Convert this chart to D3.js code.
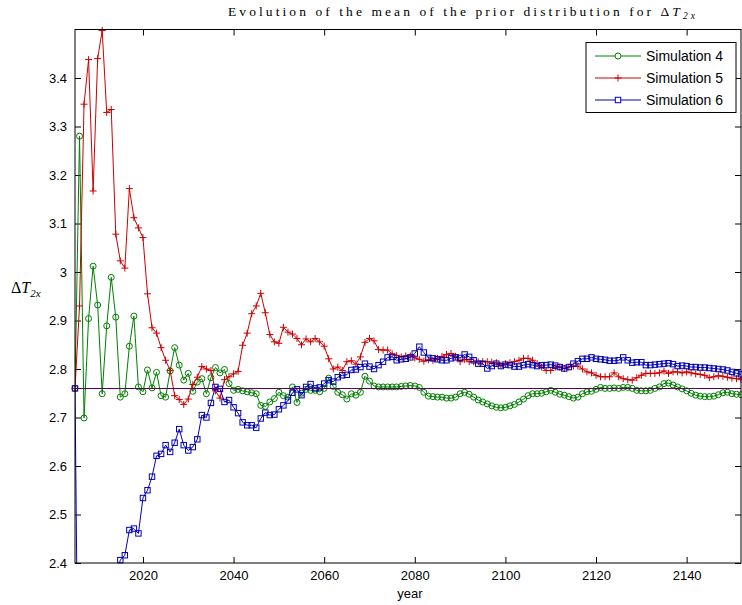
<!DOCTYPE html>
<html><head><meta charset="utf-8">
<script src="https://cdn.jsdelivr.net/npm/d3@7"></script>
<style>body{margin:0;background:#fff}svg{display:block}</style>
</head><body>
<svg id="chart" width="742" height="605"></svg>
<script>
const startYear = 2005;
const seriesNames = ["Simulation 4", "Simulation 5", "Simulation 6"];
const sim4 = [
2.760,3.280,2.699,2.904,3.012,2.932,2.749,2.889,2.989,2.907,
2.742,2.749,2.847,2.909,2.763,2.753,2.798,2.761,2.793,2.745,
2.742,2.796,2.844,2.808,2.777,2.791,2.754,2.773,2.780,2.749,
2.782,2.803,2.792,2.799,2.770,2.756,2.758,2.755,2.753,2.751,
2.749,2.725,2.723,2.732,2.739,2.752,2.745,2.742,2.763,2.731,
2.750,2.758,2.756,2.756,2.753,2.760,2.781,2.764,2.752,2.747,
2.738,2.749,2.746,2.752,2.785,2.775,2.765,2.763,2.763,2.763,
2.763,2.763,2.764,2.765,2.766,2.765,2.762,2.752,2.744,2.743,
2.742,2.742,2.740,2.740,2.742,2.749,2.752,2.748,2.742,2.736,
2.732,2.728,2.724,2.721,2.720,2.721,2.724,2.727,2.732,2.738,
2.745,2.749,2.749,2.750,2.753,2.756,2.752,2.748,2.746,2.743,
2.740,2.742,2.749,2.753,2.754,2.758,2.762,2.760,2.760,2.761,
2.760,2.762,2.762,2.760,2.756,2.755,2.755,2.756,2.760,2.763,
2.770,2.771,2.767,2.763,2.759,2.755,2.750,2.746,2.744,2.743,
2.743,2.744,2.747,2.751,2.752,2.749,2.748,2.747];
const sim5 = [
2.760,2.930,3.346,3.438,3.167,3.440,3.498,3.329,3.335,3.078,
3.023,3.008,3.172,3.112,3.091,3.071,2.955,2.885,2.874,2.844,
2.818,2.797,2.745,2.737,2.727,2.738,2.768,2.783,2.805,2.800,
2.797,2.755,2.740,2.778,2.784,2.790,2.795,2.849,2.874,2.914,
2.930,2.956,2.916,2.871,2.856,2.853,2.886,2.876,2.872,2.863,
2.850,2.862,2.856,2.863,2.856,2.847,2.821,2.800,2.804,2.797,
2.815,2.817,2.810,2.825,2.855,2.863,2.858,2.840,2.839,2.839,
2.831,2.828,2.825,2.827,2.827,2.823,2.820,2.816,2.819,2.818,
2.822,2.826,2.830,2.832,2.826,2.815,2.820,2.815,2.815,2.815,
2.815,2.815,2.814,2.813,2.808,2.811,2.813,2.815,2.818,2.822,
2.822,2.818,2.811,2.804,2.797,2.797,2.804,2.804,2.801,2.804,
2.806,2.806,2.800,2.794,2.792,2.787,2.784,2.784,2.784,2.792,
2.784,2.780,2.778,2.777,2.782,2.787,2.791,2.791,2.791,2.792,
2.796,2.791,2.794,2.794,2.792,2.794,2.792,2.790,2.789,2.787,
2.782,2.784,2.786,2.785,2.783,2.781,2.780,2.779];
const sim6 = [
2.760,1.800,1.950,2.050,2.120,2.180,2.230,2.280,2.320,2.370,
2.406,2.416,2.468,2.471,2.461,2.534,2.550,2.578,2.621,2.625,
2.643,2.629,2.648,2.676,2.643,2.632,2.639,2.655,2.705,2.700,
2.730,2.763,2.759,2.732,2.736,2.721,2.709,2.690,2.684,2.684,
2.679,2.698,2.710,2.705,2.706,2.717,2.725,2.735,2.751,2.758,
2.746,2.763,2.769,2.760,2.762,2.770,2.777,2.774,2.783,2.787,
2.788,2.798,2.799,2.804,2.811,2.805,2.800,2.808,2.815,2.824,
2.825,2.818,2.820,2.821,2.824,2.832,2.846,2.834,2.823,2.822,
2.820,2.818,2.818,2.822,2.824,2.823,2.830,2.825,2.818,2.811,
2.811,2.801,2.806,2.811,2.806,2.809,2.808,2.805,2.805,2.808,
2.810,2.808,2.806,2.808,2.808,2.809,2.807,2.804,2.801,2.804,
2.811,2.816,2.821,2.821,2.824,2.821,2.820,2.819,2.817,2.817,
2.818,2.824,2.818,2.813,2.814,2.814,2.808,2.808,2.809,2.810,
2.811,2.812,2.810,2.806,2.807,2.806,2.804,2.804,2.803,2.803,
2.802,2.801,2.800,2.799,2.797,2.794,2.791,2.789];
const referenceValue = 2.76;
const xTicks = [2020, 2040, 2060, 2080, 2100, 2120, 2140];
const yTicks = [2.4, 2.5, 2.6, 2.7, 2.8, 2.9, 3.0, 3.1, 3.2, 3.3, 3.4];
const xDomain = [2005, 2152];
const yDomain = [2.4, 3.5];

const svg = d3.select("#chart");
const L = 75, R = 741, T = 29.5, B = 563;
const x = d3.scaleLinear().domain(xDomain).range([L, R]);
const y = d3.scaleLinear().domain(yDomain).range([B, T]);

const colors = ["#008000", "#cc0000", "#0000b4"];
const allSeries = [sim4, sim5, sim6].map((vals, i) => ({
  name: seriesNames[i], color: colors[i], marker: ["circle","plus","square"][i],
  pts: vals.map((v, k) => ({yr: startYear + k, v}))
}));

svg.append("defs").append("clipPath").attr("id","clip")
  .append("rect").attr("x", L).attr("y", T).attr("width", R - L).attr("height", B - T);

const font = "'Liberation Sans', Arial, Helvetica, sans-serif";

const tickLen = 6;
const axB = d3.axisBottom(x).tickValues(xTicks).tickFormat(d3.format("d")).tickSizeInner(-tickLen).tickSizeOuter(0).tickPadding(8);
const axT = d3.axisTop(x).tickValues(xTicks).tickFormat("").tickSizeInner(-tickLen).tickSizeOuter(0);
const axL = d3.axisLeft(y).tickValues(yTicks).tickFormat(d => d3.format("")(+d.toFixed(1))).tickSizeInner(-tickLen).tickSizeOuter(0).tickPadding(8);
const axR = d3.axisRight(y).tickValues(yTicks).tickFormat("").tickSizeInner(-tickLen).tickSizeOuter(0);

function style(g){
  g.select(".domain").remove();
  g.selectAll("line").attr("stroke","#000").attr("stroke-width",1);
  g.selectAll("text").attr("font-family", font).attr("font-size", 13).attr("fill","#000");
}
svg.append("g").attr("transform",`translate(0,${B})`).call(axB).call(style);
svg.append("g").attr("transform",`translate(0,${T})`).call(axT).call(style);
svg.append("g").attr("transform",`translate(${L},0)`).call(axL).call(style);
svg.append("g").attr("transform",`translate(${R},0)`).call(axR).call(style);

const plot = svg.append("g");
const lineGen = d3.line().x(d => x(d.yr)).y(d => y(d.v));

allSeries.forEach(s => {
  plot.append("path").datum(s.pts).attr("clip-path","url(#clip)")
    .attr("fill","none").attr("stroke", s.color).attr("stroke-width",1).attr("d", lineGen);
  const inside = s.pts.filter(d => d.v >= yDomain[0] && d.v <= yDomain[1]);
  const g = plot.append("g");
  if (s.marker === "circle") {
    g.selectAll("circle").data(inside).join("circle")
      .attr("cx", d => x(d.yr)).attr("cy", d => y(d.v)).attr("r", 3)
      .attr("fill","none").attr("stroke", s.color).attr("stroke-width",1);
  } else if (s.marker === "plus") {
    g.selectAll("path").data(inside).join("path")
      .attr("d", d => { const cx = x(d.yr), cy = y(d.v); return `M${cx-3.5},${cy}H${cx+3.5}M${cx},${cy-3.5}V${cy+3.5}`; })
      .attr("stroke", s.color).attr("stroke-width",1);
  } else {
    g.selectAll("rect").data(inside).join("rect")
      .attr("x", d => x(d.yr) - 2.7).attr("y", d => y(d.v) - 2.7).attr("width", 5.4).attr("height", 5.4)
      .attr("fill","none").attr("stroke", s.color).attr("stroke-width",1);
  }
});

// reference line
const ry = Math.round(y(referenceValue)) + 0.5;
plot.append("line").attr("x1", L).attr("x2", R).attr("y1", ry).attr("y2", ry)
  .attr("stroke","#5c005c").attr("stroke-width",1);

// frame
svg.append("rect").attr("x", L).attr("y", T).attr("width", R - L).attr("height", B - T)
  .attr("fill","none").attr("stroke","#000").attr("stroke-width",1);

// legend
const lg = svg.append("g");
lg.append("rect").attr("x", 586).attr("y", 42.5).attr("width", 150).attr("height", 70)
  .attr("fill","#fff").attr("stroke","#000").attr("stroke-width",1);
allSeries.forEach((s, i) => {
  const ly = 56 + i * 22;
  lg.append("line").attr("x1", 595).attr("x2", 641).attr("y1", ly).attr("y2", ly).attr("stroke", s.color).attr("stroke-width",1);
  const mx = 618;
  if (s.marker === "circle") lg.append("circle").attr("cx", mx).attr("cy", ly).attr("r", 3).attr("fill","#fff").attr("stroke", s.color);
  else if (s.marker === "plus") lg.append("path").attr("d", `M${mx-3.5},${ly}H${mx+3.5}M${mx},${ly-3.5}V${ly+3.5}`).attr("stroke", s.color);
  else lg.append("rect").attr("x", mx-2.7).attr("y", ly-2.7).attr("width",5.4).attr("height",5.4).attr("fill","#fff").attr("stroke", s.color);
  lg.append("text").attr("x", 646).attr("y", ly + 5).attr("font-family", font).attr("font-size", 14).text(s.name);
});

// x label
svg.append("text").attr("x", 410).attr("y", 598).attr("text-anchor","middle")
  .attr("font-family", font).attr("font-size", 13).text("year");

// title
const serif = "'Liberation Serif', 'DejaVu Serif', serif";
const title = svg.append("text").attr("x", 228).attr("y", 16)
  .attr("font-family", serif).attr("font-size", 13.5)
  .attr("textLength", 467).attr("lengthAdjust","spacing");
title.append("tspan").text("Evolution of the mean of the prior distribution for Δ");
title.append("tspan").attr("font-style","italic").text("T");
title.append("tspan").attr("font-style","italic").attr("font-size", 9.5).attr("dy", 3).text("2x");

// y label
const yl = svg.append("text").attr("x", 11).attr("y", 293).attr("font-family", serif).attr("font-size", 16);
yl.append("tspan").text("Δ");
yl.append("tspan").attr("font-style","italic").text("T");
yl.append("tspan").attr("font-style","italic").attr("font-size", 11).attr("dy", 4).text("2x");
</script>
</body></html>
